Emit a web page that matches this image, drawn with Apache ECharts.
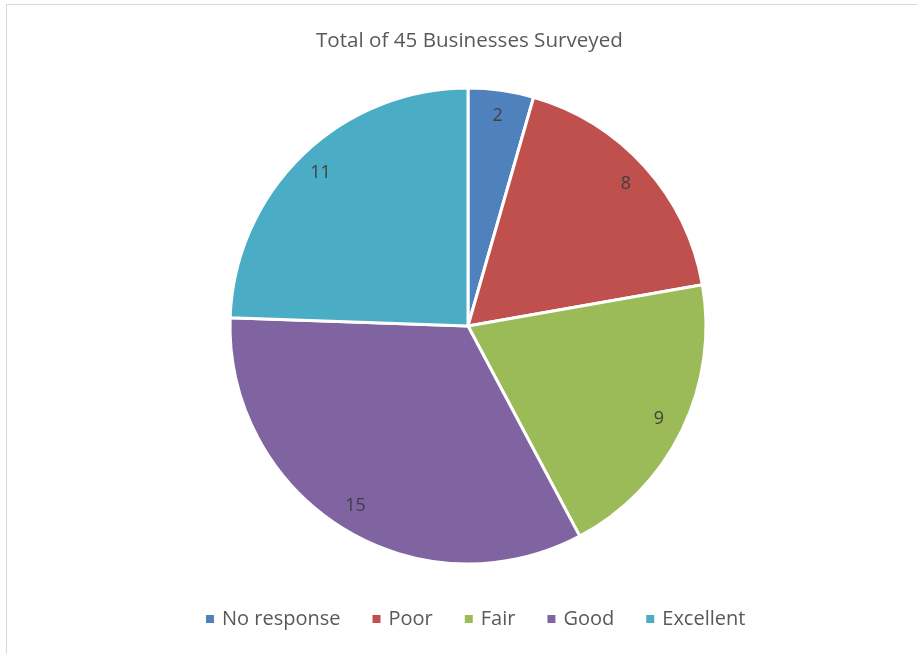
<!DOCTYPE html>
<html>
<head>
<meta charset="utf-8">
<script src="https://cdn.jsdelivr.net/npm/echarts@6/dist/echarts.min.js"></script>
<style>
  html, body { margin: 0; padding: 0; background: #fff; }
  #frame { position: absolute; left: 6px; top: 4px; width: 930px; height: 670px;
           border: 1px solid #d9d9d9; box-sizing: border-box; }
  #chart { position: absolute; left: 0; top: 0; width: 917px; height: 654px; }
</style>
</head>
<body>
<div id="frame"></div>
<div id="chart"></div>
<script>
const categories = ['No response', 'Poor', 'Fair', 'Good', 'Excellent'];
const counts = [2, 8, 9, 15, 11];
const colors = ['#4F81BD', '#C0504D', '#9BBB59', '#8064A2', '#4BACC6'];
const titleText = 'Total of 45 Businesses Surveyed';

const font = '"Open Sans", "Liberation Sans", sans-serif';
const center = [468, 326];
const radius = 238;

const sliceData = categories.map((name, i) => ({
  name, value: counts[i], itemStyle: { color: colors[i] }
}));

const chart = echarts.init(document.getElementById('chart'));
chart.setOption({
  animation: false,
  title: {
    text: titleText, left: 311, top: 26,
    textStyle: { fontFamily: font, fontSize: 20.6, fontWeight: 'normal', color: '#595959' }
  },
  legend: {
    bottom: 20, left: 199, itemWidth: 10, itemHeight: 10, itemGap: 30,
    icon: 'rect', data: categories,
    textStyle: { fontFamily: font, fontSize: 20, color: '#595959', padding: [0, 0, 0, 2] }
  },
  series: [
    {
      type: 'pie', center, radius, startAngle: 90, clockwise: true,
      data: sliceData,
      itemStyle: { borderColor: '#fff', borderWidth: 3 },
      label: { show: false }, labelLine: { show: false },
      emphasis: { disabled: true }
    },
    {
      // outer ring used only to place value labels near the rim
      type: 'pie', center, radius: [radius * 0.76, radius], startAngle: 90, clockwise: true,
      silent: true, legendHoverLink: false,
      data: categories.map((name, i) => ({ name, value: counts[i] })),
      itemStyle: { color: 'rgba(0,0,0,0)', borderWidth: 0 },
      label: {
        show: true, position: 'inside', formatter: '{c}', rotate: 0,
        fontFamily: font, fontSize: 18, color: '#404040'
      },
      labelLine: { show: false },
      emphasis: { disabled: true }
    }
  ]
});
</script>
</body>
</html>
